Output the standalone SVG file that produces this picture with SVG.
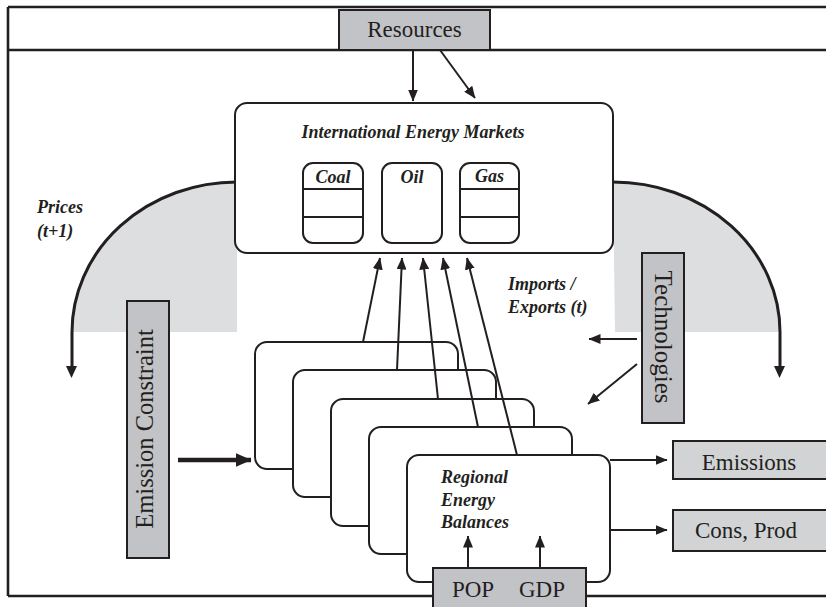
<svg xmlns="http://www.w3.org/2000/svg" width="826" height="607" viewBox="0 0 826 607">
<defs>
<marker id="ah" viewBox="0 0 12 10" refX="11.5" refY="5" markerWidth="12" markerHeight="10" markerUnits="userSpaceOnUse" orient="auto">
<path d="M0,0 L12,5 L0,10 Z" fill="#231f20"/>
</marker>
<marker id="ahbig" viewBox="0 0 16 14" refX="15.5" refY="7" markerWidth="16" markerHeight="14" markerUnits="userSpaceOnUse" orient="auto">
<path d="M0,0 L16,7 L0,14 Z" fill="#231f20"/>
</marker>
</defs>

<g id="frame" fill="none" stroke="#231f20" stroke-width="2.6">
<line x1="8" y1="7" x2="826" y2="7"/>
<line x1="8" y1="7" x2="8" y2="596"/>
<line x1="8" y1="50" x2="826" y2="50"/>
<line x1="8" y1="596" x2="826" y2="596"/>
</g>

<g id="shading" fill="#dddee0">
<path d="M237,182 A165,150 0 0 0 72,332 L237,332 Z"/>
<path d="M613,182 A167,150 0 0 1 780,332 L615,332 Z"/>
</g>

<g id="connectors">
<path d="M237,182 A165,150 0 0 0 72,332 L72,366" fill="none" stroke="#231f20" stroke-width="3"/>
<path d="M66,366 L77,366 L71.5,378 Z" fill="#231f20"/>
<path d="M613,182 A167,150 0 0 1 780,332 L780,366" fill="none" stroke="#231f20" stroke-width="3"/>
<path d="M774,366 L785,366 L779.5,378 Z" fill="#231f20"/>
</g>

<g id="resources">
<rect x="339" y="10" width="151" height="40" fill="#c2c3c6" stroke="#231f20" stroke-width="2"/>
<text x="414.5" y="37" text-anchor="middle" font-family="Liberation Serif" font-size="23" fill="#231f20">Resources</text>
</g>

<g id="markets">
<rect x="235" y="103" width="378" height="150" rx="12" fill="#fff" stroke="#231f20" stroke-width="2"/>
<text x="413" y="138" text-anchor="middle" font-family="Liberation Serif" font-size="18" font-style="italic" font-weight="bold" fill="#231f20">International Energy Markets</text>
</g>
<g id="coal">
<rect x="303" y="163" width="60" height="80" rx="10" fill="#fff" stroke="#231f20" stroke-width="2"/>
<path d="M303,189 H363 M303,217 H363" stroke="#231f20" stroke-width="2"/>
<text x="333" y="183" text-anchor="middle" font-family="Liberation Serif" font-size="18" font-style="italic" font-weight="bold" fill="#231f20">Coal</text>
</g>
<g id="oil">
<rect x="382" y="163" width="60" height="80" rx="10" fill="#fff" stroke="#231f20" stroke-width="2"/>
<text x="412" y="183" text-anchor="middle" font-family="Liberation Serif" font-size="18" font-style="italic" font-weight="bold" fill="#231f20">Oil</text>
</g>
<g id="gas">
<rect x="460" y="163" width="59" height="80" rx="10" fill="#fff" stroke="#231f20" stroke-width="2"/>
<path d="M460,189 H519 M460,217 H519" stroke="#231f20" stroke-width="2"/>
<text x="489.5" y="182" text-anchor="middle" font-family="Liberation Serif" font-size="18" font-style="italic" font-weight="bold" fill="#231f20">Gas</text>
</g>

<g id="prices-label" font-family="Liberation Serif" font-size="18" font-style="italic" font-weight="bold" fill="#231f20">
<text x="37" y="213">Prices</text>
<text x="37" y="237">(t+1)</text>
</g>
<g id="imports-label" font-family="Liberation Serif" font-size="18" font-style="italic" font-weight="bold" fill="#231f20">
<text x="508" y="290">Imports /</text>
<text x="508" y="313">Exports (t)</text>
</g>

<g id="emission-constraint">
<rect x="127" y="301" width="42" height="257" fill="#c2c3c6" stroke="#231f20" stroke-width="2"/>
<text transform="translate(153,429) rotate(-90)" text-anchor="middle" font-family="Liberation Serif" font-size="24.5" fill="#231f20">Emission Constraint</text>
</g>

<g id="technologies">
<rect x="642" y="253" width="42" height="170" fill="#c2c3c6" stroke="#231f20" stroke-width="2"/>
<text transform="translate(655,337) rotate(90)" text-anchor="middle" font-family="Liberation Serif" font-size="25" fill="#231f20">Technologies</text>
</g>

<g id="region1"><rect x="255" y="342" width="203" height="127" rx="12" fill="#fff" stroke="#231f20" stroke-width="2"/></g>
<g id="region2"><rect x="293" y="370" width="203" height="127" rx="12" fill="#fff" stroke="#231f20" stroke-width="2"/></g>
<g id="region3"><rect x="331" y="399" width="203" height="127" rx="12" fill="#fff" stroke="#231f20" stroke-width="2"/></g>
<g id="region4"><rect x="369" y="427" width="203" height="127" rx="12" fill="#fff" stroke="#231f20" stroke-width="2"/></g>
<g id="region5">
<rect x="407" y="455" width="203" height="127" rx="12" fill="#fff" stroke="#231f20" stroke-width="2"/>
<g font-family="Liberation Serif" font-size="18" font-style="italic" font-weight="bold" fill="#231f20">
<text x="441" y="483">Regional</text>
<text x="441" y="506">Energy</text>
<text x="441" y="528">Balances</text>
</g>
</g>

<g id="emissions">
<rect x="673" y="441" width="160" height="38" fill="#d2d3d5" stroke="#231f20" stroke-width="2"/>
<text x="749" y="470" text-anchor="middle" font-family="Liberation Serif" font-size="23" fill="#231f20">Emissions</text>
</g>
<g id="consprod">
<rect x="673" y="510" width="160" height="41" fill="#d2d3d5" stroke="#231f20" stroke-width="2"/>
<text x="746" y="538" text-anchor="middle" font-family="Liberation Serif" font-size="23" fill="#231f20">Cons, Prod</text>
</g>

<g id="popgdp">
<rect x="433" y="568" width="153" height="45" fill="#c2c3c6" stroke="#231f20" stroke-width="2"/>
<text x="473" y="597" text-anchor="middle" font-family="Liberation Serif" font-size="23" fill="#231f20">POP</text>
<text x="542" y="597" text-anchor="middle" font-family="Liberation Serif" font-size="23" fill="#231f20">GDP</text>
</g>

<g id="arrows" stroke="#231f20" stroke-width="2" fill="none">
<line x1="413" y1="50" x2="413" y2="101" marker-end="url(#ah)"/>
<line x1="440" y1="50" x2="475" y2="98" marker-end="url(#ah)"/>
<line x1="363" y1="342" x2="380" y2="258" marker-end="url(#ah)"/>
<line x1="397" y1="370" x2="402" y2="258" marker-end="url(#ah)"/>
<line x1="438" y1="399" x2="423" y2="258" marker-end="url(#ah)"/>
<line x1="478" y1="427" x2="443" y2="258" marker-end="url(#ah)"/>
<line x1="517" y1="455" x2="467" y2="258" marker-end="url(#ah)"/>
<line x1="637" y1="339" x2="589" y2="339" marker-end="url(#ah)"/>
<line x1="637" y1="364" x2="588" y2="404" marker-end="url(#ah)"/>
<line x1="178" y1="460" x2="251" y2="460" stroke-width="4.5" marker-end="url(#ahbig)"/>
<line x1="610" y1="460" x2="667" y2="460" marker-end="url(#ah)"/>
<line x1="610" y1="530" x2="667" y2="530" marker-end="url(#ah)"/>
<line x1="468" y1="568" x2="468" y2="536" marker-end="url(#ah)"/>
<line x1="540" y1="568" x2="540" y2="536" marker-end="url(#ah)"/>
</g>
</svg>
